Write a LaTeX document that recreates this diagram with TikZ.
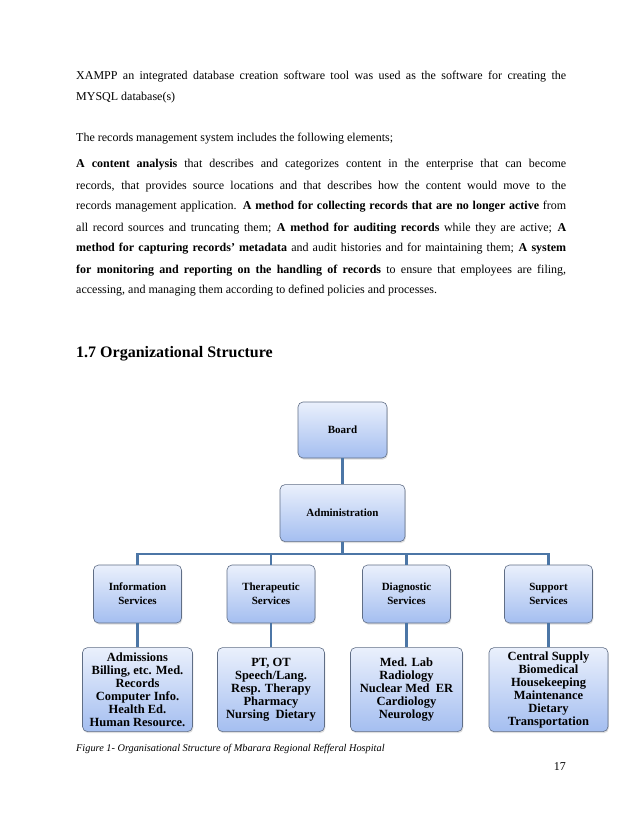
\documentclass[tikz,border=0pt]{standalone}
\usepackage{fontspec}
\setmainfont{Liberation Serif}
\usepackage{color}
\definecolor{mylightblue}{RGB}{234,240,252}
\definecolor{mydeepblue}{RGB}{164,190,240}
\definecolor{myedge}{RGB}{96,110,134}
\definecolor{mysteel}{RGB}{76,118,166}
\usepackage{tikz}
\usetikzlibrary{positioning,shadows,calc}

\begin{document}
\begin{tikzpicture}[
  x=1pt,
  y=-1pt,
  mybox/.style={
    draw=myedge,
    line width=0.6pt,
    rounded corners=5pt,
    top color=mylightblue,
    bottom color=mydeepblue,
    drop shadow={opacity=0.25,shadow xshift=0.8pt,shadow yshift=-1.6pt},
    font=\fontsize{11}{14}\selectfont\bfseries,
    align=center,
    inner sep=0pt,
    minimum width=#1
    },
  mybox/.default=88pt,
  mylist/.style={
    mybox=#1,
    minimum height=84pt,
    font=\fontsize{12.5}{13}\selectfont\bfseries
    },
  myline/.style={
    draw=mysteel,
    line width=2.4pt
    },
  mytext/.style={
    anchor=base west,
    inner sep=0pt,
    text width=490pt,
    align=justify,
    font=\fontsize{12}{21}\selectfont
    }
]

\useasboundingbox[fill=white] (0,0) rectangle (638,826);

\node[mytext] (para1) at (76,80)
  {XAMPP an integrated database creation software tool was used as the software for creating the\linebreak
  MYSQL database(s)};

\node[mytext] (para2) at (76,142)
  {The records management system includes the following elements;};

\node[mytext] (para3) at (76,168)
  {\textbf{A content analysis} that describes and categorizes content in the enterprise that can become\linebreak
  records, that provides source locations and that describes how the content would move to the\linebreak
  records management application. \textbf{A method for collecting records that are no longer active} from\linebreak
  all record sources and truncating them; \textbf{A method for auditing records} while they are active; \textbf{A}\linebreak
  \textbf{method for capturing records' metadata} and audit histories and for maintaining them; \textbf{A system}\linebreak
  \textbf{for monitoring and reporting on the handling of records} to ensure that employees are filing,\linebreak
  accessing, and managing them according to defined policies and processes.};

\node[anchor=base west, inner sep=0pt, font=\fontsize{16}{18}\selectfont\bfseries] (heading) at (76,357)
  {1.7 Organizational Structure};

\node[mybox=89pt, minimum height=56pt] (board) at (342.5,430) {Board};

\node[mybox=125pt, minimum height=57pt, below=26pt of board] (admin) {Administration};

\foreach \Nombre/\Valx/\Texto in {info/137.5/{Information\\Services}, thera/271/{Therapeutic\\Services}, diag/406.5/{Diagnostic\\Services}, supp/548.5/{Support\\Services}}
  \node[mybox, minimum height=58pt] (\Nombre) at (\Valx,594) {\Texto};

\node[mylist=110pt, below=24pt of info] (info2)
  {Admissions\\Billing, etc. Med.\\Records\\Computer Info.\\Health Ed.\\Human Resource.};

\node[mylist=107pt, below=24pt of thera] (thera2)
  {PT, OT\\Speech/Lang.\\Resp. Therapy\\Pharmacy\\Nursing~~Dietary};

\node[mylist=112pt, below=24pt of diag] (diag2)
  {Med. Lab\\Radiology\\Nuclear Med~~ER\\Cardiology\\Neurology};

\node[mylist=119pt, below=24pt of supp] (supp2)
  {Central Supply\\Biomedical\\Housekeeping\\Maintenance\\Dietary\\Transportation};

\coordinate (bar) at ($(admin.south)+(0,12)$);

\draw[myline] (board) -- (admin);
\draw[myline] (admin) -- (bar);
\draw[myline] (info.north) |- (bar) -| (supp.north);
\foreach \Nombre in {info,thera,diag,supp}
  {
  \draw[myline] (\Nombre.north) |- (bar);
  \draw[myline] (\Nombre) -- (\Nombre2);
  }

\node[anchor=base west, inner sep=0pt, font=\fontsize{10.3}{12}\selectfont\itshape] (caption) at (76,751)
  {Figure 1- Organisational Structure of Mbarara Regional Refferal Hospital};

\node[anchor=base east, inner sep=0pt, font=\fontsize{12}{14}\selectfont] (pagenum) at (566,770) {17};

\end{tikzpicture}
\end{document}
